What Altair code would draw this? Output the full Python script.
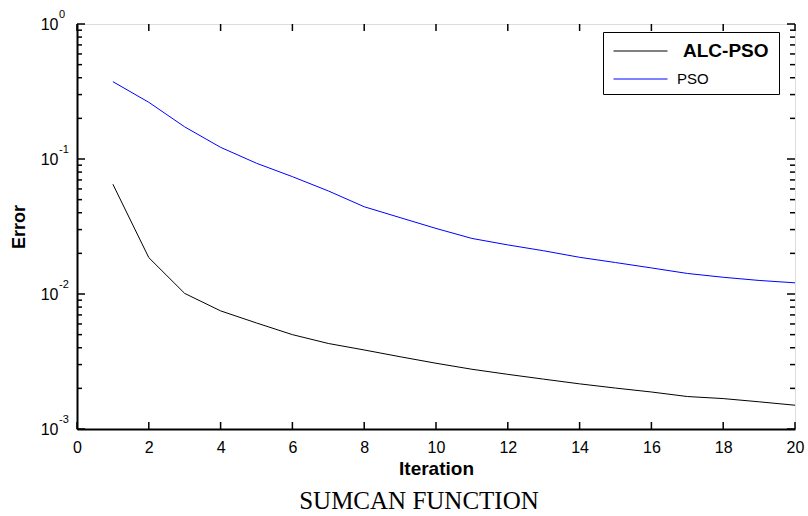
import altair as alt
import pandas as pd

# ---------------- data ----------------
iterations = list(range(1, 21))
alc_pso = [0.065, 0.0186, 0.0101, 0.0075, 0.0061, 0.0050, 0.0043, 0.00385, 0.00343, 0.00307,
           0.00277, 0.00254, 0.00234, 0.00216, 0.00201, 0.00188, 0.00174, 0.00168, 0.00159, 0.00150]
pso = [0.374, 0.263, 0.173, 0.122, 0.093, 0.074, 0.058, 0.0443, 0.0368, 0.0306,
       0.0258, 0.0231, 0.0209, 0.0187, 0.0171, 0.0156, 0.0142, 0.0133, 0.0126, 0.0121]
series_names = ["ALC-PSO", "PSO"]
series_colors = ["#000000", "#0000ff"]
x_ticks = list(range(0, 21, 2))
y_major = [1, 0.1, 0.01, 0.001]
y_exponents = ["0", "-1", "-2", "-3"]
y_minor = [m * d for d in [0.1, 0.01, 0.001] for m in range(2, 10)]

alc_df = pd.DataFrame({"Iteration": iterations, "Error": alc_pso, "Series": series_names[0]})
pso_df = pd.DataFrame({"Iteration": iterations, "Error": pso, "Series": series_names[1]})
exp_df = pd.DataFrame({"value": y_major, "exp": y_exponents})
xt_df = pd.DataFrame({"v": x_ticks})
ymaj_df = pd.DataFrame({"v": y_major})
ymin_df = pd.DataFrame({"v": y_minor})

FONT = "Liberation Sans"
X_MIN, X_MAX = 0, 20
Y_MIN, Y_MAX = 0.001, 1
x_scale = alt.Scale(domain=[X_MIN, X_MAX], nice=False, zero=False)
y_scale = alt.Scale(type="log", domain=[Y_MIN, Y_MAX], nice=False)

main_x = alt.X(
    "Iteration:Q", scale=x_scale, title="Iteration",
    axis=alt.Axis(orient="bottom", values=x_ticks, ticks=False,
                  domainColor="black", domainWidth=2, labelPadding=10, labelFont=FONT,
                  labelFontSize=16, labelColor="black", labelFlush=False, grid=False,
                  titleFont=FONT, titleFontSize=19, titleFontWeight="bold", titleColor="black",
                  titlePadding=4),
)
main_y = alt.Y(
    "Error:Q", scale=y_scale, title="Error",
    axis=alt.Axis(orient="left", values=y_major, ticks=False,
                  domainColor="black", domainWidth=2, labelPadding=19,
                  labelExpr="'10'", labelFont=FONT, labelFontSize=16,
                  labelColor="black", labelFlush=False, grid=False,
                  titleFont=FONT, titleFontSize=18, titleFontWeight="bold", titleColor="black",
                  titlePadding=12),
)

# ALC-PSO legend carries the white box; its bottom title row leaves room for the PSO entry
alc_line = alt.Chart(alc_df).mark_line(strokeWidth=1).encode(
    x=main_x,
    y=main_y,
    color=alt.Color(
        "Series:N",
        scale=alt.Scale(domain=[series_names[0]], range=[series_colors[0]]),
        legend=alt.Legend(
            orient="none", legendX=526, legendY=8, padding=10,
            title="\u00a0", titleOrient="bottom", titleFont=FONT, titleFontSize=15,
            titlePadding=8,
            fillColor="white", strokeColor="black",
            symbolType="stroke", symbolSize=2916, symbolStrokeWidth=1, clipHeight=18,
            labelOffset=15, labelFont=FONT, labelColor="black",
            labelFontSize=19, labelFontWeight="bold", labelLimit=300,
        ),
    ),
)

pso_line = alt.Chart(pso_df).mark_line(strokeWidth=1).encode(
    x=alt.X("Iteration:Q", scale=x_scale, axis=None),
    y=alt.Y("Error:Q", scale=y_scale, axis=None),
    stroke=alt.Stroke(
        "Series:N",
        scale=alt.Scale(domain=[series_names[1]], range=[series_colors[1]]),
        legend=alt.Legend(
            orient="none", legendX=526, legendY=36, padding=10, title=None,
            symbolType="stroke", symbolSize=2916, symbolStrokeWidth=1, clipHeight=18,
            labelOffset=9, labelFont=FONT, labelColor="black",
            labelFontSize=15, labelFontWeight="normal",
        ),
    ),
)


def y_ticks(data, at, length):
    return alt.Chart(data).mark_rule(color="#000000", strokeWidth=1.5, x2Offset=length).encode(
        x=alt.XDatum(at, type="quantitative", scale=x_scale, axis=None),
        x2=alt.X2Datum(at),
        y=alt.Y("v:Q", scale=y_scale, axis=None),
    )


def x_ticks_layer(at, length):
    return alt.Chart(xt_df).mark_rule(color="#000000", strokeWidth=1.5, y2Offset=length).encode(
        x=alt.X("v:Q", scale=x_scale, axis=None),
        y=alt.YDatum(at, type="quantitative", scale=y_scale, axis=None),
        y2=alt.Y2Datum(at),
    )


tick_layers = [
    y_ticks(ymaj_df, X_MIN, 8), y_ticks(ymin_df, X_MIN, 5),
    y_ticks(ymaj_df, X_MAX, -8), y_ticks(ymin_df, X_MAX, -5),
    x_ticks_layer(Y_MIN, -7), x_ticks_layer(Y_MAX, 7),
]

exps = alt.Chart(exp_df).mark_text(
    align="left", baseline="middle", dx=-18, dy=-9, font=FONT, fontSize=11, color="black"
).encode(
    x=alt.XDatum(0, type="quantitative", scale=x_scale, axis=None),
    y=alt.Y("value:Q", scale=y_scale, axis=None),
    text="exp:N",
)

chart = alt.layer(alc_line, pso_line, *tick_layers, exps).resolve_axis(
    x="independent", y="independent"
).resolve_scale(color="independent", stroke="independent").properties(
    width=718, height=405,
    autosize=alt.AutoSizeParams(type="none"),
    padding={"left": 77, "top": 24, "right": 13, "bottom": 87},
    title=alt.TitleParams(
        "SUMCAN FUNCTION", orient="bottom", font="Liberation Serif", fontSize=25,
        fontWeight="normal", color="black", anchor="middle", offset=11, dx=-17,
    ),
).configure_view(stroke="black", strokeWidth=1).configure(background="white")

chart.save("out.html", embed_options={"renderer": "svg", "actions": False})
